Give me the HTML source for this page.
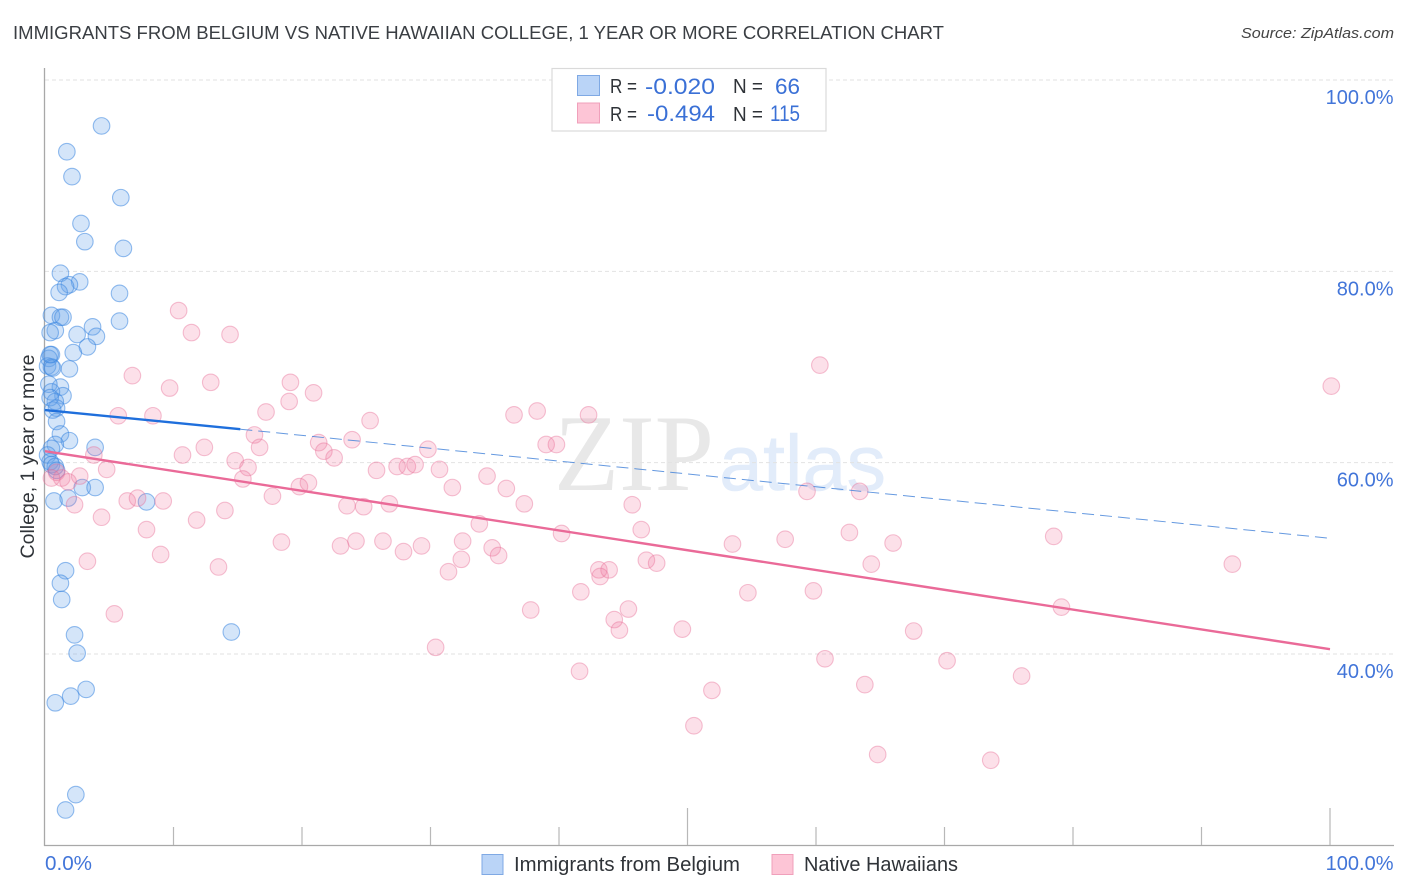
<!DOCTYPE html>
<html lang="en">
<head>
<meta charset="utf-8">
<title>Immigrants from Belgium vs Native Hawaiian College Correlation Chart</title>
<style>
html,body{margin:0;padding:0;background:#fff;width:1406px;height:892px;overflow:hidden}
svg{display:block;font-family:"Liberation Sans",sans-serif}
</style>
</head>
<body>
<svg id="chart" xmlns="http://www.w3.org/2000/svg" width="1406" height="892" viewBox="0 0 1406 892">
  <rect x="0" y="0" width="1406" height="892" fill="#fff"/>
  <text x="13" y="39" font-size="18.5" fill="#3a3e43" textLength="931" lengthAdjust="spacingAndGlyphs">IMMIGRANTS FROM BELGIUM VS NATIVE HAWAIIAN COLLEGE, 1 YEAR OR MORE CORRELATION CHART</text>
  <text x="1241" y="38" font-size="15" font-style="italic" fill="#444" textLength="153" lengthAdjust="spacingAndGlyphs">Source: ZipAtlas.com</text>
  <g>
    <text x="554" y="490" font-family="'Liberation Serif',serif" font-size="109" fill="#e8e8e8" textLength="160" lengthAdjust="spacingAndGlyphs">ZIP</text>
    <text x="719" y="490" font-family="'Liberation Sans',sans-serif" font-size="79" fill="#e2ecfa" stroke="#e2ecfa" stroke-width="0.500" textLength="167" lengthAdjust="spacingAndGlyphs">atlas</text>
  </g>
  <g id="grid"></g>
  <g id="axes"></g>
  <g id="blue-points"></g>
  <g id="pink-points"></g>
  <g id="trends"></g>
  <g id="labels"></g>
  <text transform="translate(34,456.500) rotate(-90)" font-size="19" fill="#2f3338" text-anchor="middle" textLength="204" lengthAdjust="spacingAndGlyphs">College, 1 year or more</text>

  <g>
    <rect x="552" y="68.500" width="274" height="62.500" fill="#fff" stroke="#dadada" stroke-width="1.200"/>
    <rect x="577.500" y="75.500" width="22" height="20" fill="#bad4f7" stroke="#7fa9e4" stroke-width="1"/>
    <rect x="577.500" y="103" width="22" height="20" fill="#fdc5d6" stroke="#f0a0bb" stroke-width="1"/>
    <text x="610" y="93" font-size="20" fill="#2f3338" textLength="27" lengthAdjust="spacingAndGlyphs">R =</text>
    <text x="645" y="94" font-size="22" fill="#3a70d6" textLength="70" lengthAdjust="spacingAndGlyphs">-0.020</text>
    <text x="733" y="93" font-size="20" fill="#2f3338" textLength="30" lengthAdjust="spacingAndGlyphs">N =</text>
    <text x="775" y="94" font-size="22" fill="#3a70d6" textLength="25" lengthAdjust="spacingAndGlyphs">66</text>
    <text x="610" y="121" font-size="20" fill="#2f3338" textLength="27" lengthAdjust="spacingAndGlyphs">R =</text>
    <text x="647" y="121" font-size="22" fill="#3a70d6" textLength="68" lengthAdjust="spacingAndGlyphs">-0.494</text>
    <text x="733" y="121" font-size="20" fill="#2f3338" textLength="30" lengthAdjust="spacingAndGlyphs">N =</text>
    <text x="770" y="121" font-size="22" fill="#3a70d6" textLength="30" lengthAdjust="spacingAndGlyphs">115</text>
  </g>

  <g>
    <rect x="482" y="854.500" width="21" height="20" fill="#bad4f7" stroke="#7fa9e4" stroke-width="1"/>
    <text x="514" y="871" font-size="20" fill="#2f3338" textLength="226" lengthAdjust="spacingAndGlyphs">Immigrants from Belgium</text>
    <rect x="772" y="854.500" width="21" height="20" fill="#fdc5d6" stroke="#f0a0bb" stroke-width="1"/>
    <text x="804" y="871" font-size="20" fill="#2f3338" textLength="154" lengthAdjust="spacingAndGlyphs">Native Hawaiians</text>
  </g>
</svg>
<script>
const belgiumX = [4.4,1.7,2.1,5.9,2.8,3.1,6.1,1.2,2.7,1.9,1.6,1.1,5.8,5.8,0.5,1.2,1.4,3.7,4.0,2.5,3.3,0.8,0.4,2.2,0.5,0.3,1.9,0.2,0.5,0.6,1.2,0.3,1.4,0.5,0.8,0.4,0.9,0.6,0.9,1.2,1.9,0.8,0.5,3.9,0.2,0.4,0.5,0.8,0.9,2.9,3.9,1.8,7.9,0.7,1.6,1.2,1.3,2.3,2.5,3.2,2.0,0.8,2.4,1.6,14.5,0.4];
const belgiumY = [95.2,92.5,89.9,87.7,85.0,83.1,82.4,79.8,78.9,78.6,78.4,77.8,77.7,74.8,75.4,75.2,75.2,74.2,73.2,73.4,72.1,73.8,73.6,71.5,71.3,70.9,69.8,70.1,70.0,69.9,67.9,68.2,67.0,67.4,66.4,66.8,65.7,65.5,64.3,63.0,62.3,61.9,61.5,61.6,60.8,60.1,59.8,59.6,59.2,57.4,57.4,56.3,55.9,56.0,48.7,47.4,45.7,42.0,40.1,36.3,35.6,34.9,25.3,23.7,42.3,71.3];
const hawaiiansX = [10.4,11.4,14.4,6.8,9.7,12.9,19.1,19.0,20.9,17.2,5.7,8.4,16.3,16.7,25.3,23.9,21.3,21.7,22.5,29.8,12.4,10.7,14.8,15.8,15.4,25.8,27.4,28.2,28.8,30.7,34.4,31.7,35.9,19.8,20.5,17.7,4.8,3.8,2.7,0.9,1.3,1.8,0.5,2.3,6.4,7.2,9.2,4.4,11.8,14.0,7.9,23.5,24.8,26.8,37.3,33.8,40.2,18.4,23.0,24.2,26.3,27.9,29.3,32.5,32.4,34.8,35.3,31.4,13.5,9.0,3.3,5.4,30.4,37.8,41.7,43.1,43.9,43.2,44.3,44.7,45.4,46.4,45.7,46.8,47.6,49.6,53.5,57.6,54.7,59.8,62.6,64.3,66.0,59.3,63.4,67.6,70.2,60.7,63.8,51.9,50.5,64.8,73.6,76.0,79.1,78.5,92.4,100.1,60.3,42.3,38.3,36.5,39.0,39.8,41.6];
const hawaiiansY = [75.9,73.6,73.4,69.1,67.8,68.4,68.4,66.4,67.3,65.3,64.9,64.9,62.9,61.6,64.4,62.4,62.1,61.2,60.5,61.4,61.6,60.8,60.2,59.5,58.3,59.2,59.6,59.6,59.8,59.3,58.6,57.4,57.3,57.5,57.9,56.5,59.3,60.8,58.6,59.0,58.4,58.0,58.4,55.6,56.0,56.3,56.0,54.3,54.0,55.0,53.0,55.5,55.4,55.7,55.7,53.6,52.6,51.7,51.3,51.8,51.8,50.7,51.3,51.8,49.9,51.1,50.3,48.6,49.1,50.4,49.7,44.2,40.7,44.6,46.5,48.8,48.8,48.1,43.6,42.5,44.7,53.0,55.6,49.8,49.5,42.6,51.5,52.0,46.4,46.6,52.7,49.4,51.6,57.0,57.0,42.4,39.3,39.5,36.8,36.2,32.5,29.5,28.9,37.7,44.9,52.3,49.4,68.0,70.2,65.0,65.4,65.0,61.9,61.9,38.2];
const belgiumTrendX = [0, 15.2, 100];
const belgiumTrendY = [65.5, 63.5, 52.1];
const hawaiiansTrendX = [0, 100];
const hawaiiansTrendY = [61.2, 40.5];
const yTickValues = [100, 80, 60, 40];
const yTickLabels = ["100.0%", "80.0%", "60.0%", "40.0%"];
const xTickValues = [10, 20, 30, 40, 50, 60, 70, 80, 90, 100];
const xEdgeLabels = ["0.0%", "100.0%"];

const SVG_NS = "http://www.w3.org/2000/svg";
function xScale(v) { return 45 + v * 12.85; }
function yScale(v) { return 80 + (100 - v) * 9.567; }
function make(tag, attrs, parent) {
  const el = document.createElementNS(SVG_NS, tag);
  for (const k in attrs) el.setAttribute(k, attrs[k]);
  parent.appendChild(el);
  return el;
}

const grid = document.getElementById("grid");
const axes = document.getElementById("axes");
const labels = document.getElementById("labels");
const trends = document.getElementById("trends");

yTickValues.forEach(function (v, i) {
  const line = make("line", {x1: 45, x2: 1394, y1: yScale(v), y2: yScale(v), stroke: "#e2e2e2", "stroke-width": 1, "stroke-dasharray": "4 3"}, grid);
  
  
  const t = make("text", {x: 1393.500, y: yScale(v) + 24, "font-size": 20, fill: "#4275d9", "text-anchor": "end"}, labels);
  t.textContent = yTickLabels[i];
  
  
});

const yAxisLine = make("line", {x1: 44.500, x2: 44.500, y1: 68, y2: 846, stroke: "#a8a8a8", "stroke-width": 1.300}, axes);


const xAxisLine = make("line", {x1: 44, x2: 1394, y1: 845.500, y2: 845.500, stroke: "#a8a8a8", "stroke-width": 1.300}, axes);



xTickValues.forEach(function (v) {
  const top = (v === 50 || v === 100) ? 808 : 827;
  const tick = make("line", {x1: xScale(v), x2: xScale(v), y1: top, y2: 845, stroke: "#b8b8b8", "stroke-width": 1.200}, axes);
  
  
});

const xLabelStart = make("text", {x: 45, y: 870, "font-size": 20, fill: "#4275d9", textLength: 47, lengthAdjust: "spacingAndGlyphs"}, labels);
xLabelStart.textContent = xEdgeLabels[0];


const xLabelEnd = make("text", {x: 1393.500, y: 870, "font-size": 20, fill: "#4275d9", "text-anchor": "end"}, labels);
xLabelEnd.textContent = xEdgeLabels[1];



const bluePoints = document.getElementById("blue-points");
belgiumX.forEach(function (v, i) {
  const c = make("circle", {cx: xScale(v), cy: yScale(belgiumY[i]), r: 8.300, fill: "rgb(100,160,235)", "fill-opacity": 0.28, stroke: "rgb(60,134,224)", "stroke-opacity": 0.55, "stroke-width": 1.100}, bluePoints);
  
  
});

const pinkPoints = document.getElementById("pink-points");
hawaiiansX.forEach(function (v, i) {
  const c = make("circle", {cx: xScale(v), cy: yScale(hawaiiansY[i]), r: 8.300, fill: "rgb(240,120,160)", "fill-opacity": 0.23, stroke: "rgb(232,110,150)", "stroke-opacity": 0.42, "stroke-width": 1.100}, pinkPoints);
  
  
});

const blueSolid = make("line", {x1: xScale(belgiumTrendX[0]), y1: yScale(belgiumTrendY[0]), x2: xScale(belgiumTrendX[1]), y2: yScale(belgiumTrendY[1]), stroke: "#1f6fdc", "stroke-width": 2.400}, trends);


const blueDash = make("line", {x1: xScale(belgiumTrendX[1]), y1: yScale(belgiumTrendY[1]), x2: xScale(belgiumTrendX[2]), y2: yScale(belgiumTrendY[2]), stroke: "#3f7fd8", "stroke-opacity": 0.8, "stroke-width": 1, "stroke-dasharray": "12 6"}, trends);


const pinkTrend = make("line", {x1: xScale(hawaiiansTrendX[0]), y1: yScale(hawaiiansTrendY[0]), x2: xScale(hawaiiansTrendX[1]), y2: yScale(hawaiiansTrendY[1]), stroke: "#ea6a98", "stroke-width": 2.400}, trends);


</script>
</body>
</html>
